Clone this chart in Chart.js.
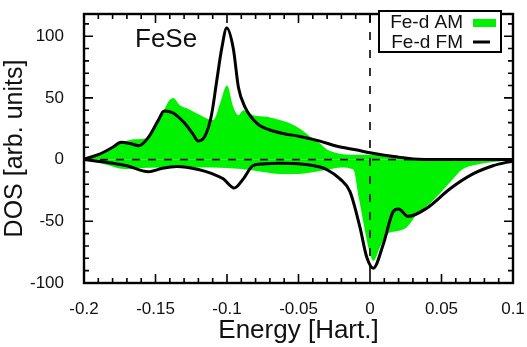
<!DOCTYPE html>
<html>
<head>
<meta charset="utf-8">
<script src="https://cdn.jsdelivr.net/npm/chart.js@4.4.0/dist/chart.umd.min.js"></script>
<style>
  html, body { margin: 0; padding: 0; background: #fff; }
  #wrap { width: 527px; height: 347px; }
</style>
</head>
<body>
<div id="wrap"><canvas id="dos"></canvas></div>
<script>
// energy in Hartree, DOS in arb. units
var amUpE   = [-0.2, -0.186, -0.175, -0.165, -0.158, -0.153, -0.149, -0.144, -0.1405, -0.1375, -0.133, -0.127, -0.121, -0.1095, -0.105, -0.1, -0.0956, -0.092, -0.0886, -0.0816, -0.072, -0.063, -0.056, -0.049, -0.042, -0.036, -0.03, -0.022, -0.01, 0, 0.015, 0.03, 0.045, 0.06, 0.1];
var amUpDos = [0, 5.5, 13, 16.5, 17, 21, 29, 40, 47.8, 50, 44, 41, 37.3, 32, 45, 60, 42.6, 36, 40, 36, 34.7, 32, 29.4, 25, 18.8, 14, 8.2, 5, 4, 4, 3, 1.5, 0.5, 0, 0];

var amDnE   = [-0.2, -0.185, -0.172, -0.155, -0.135, -0.11, -0.09, -0.075, -0.063, -0.05, -0.04, -0.03, -0.02, -0.0117, -0.0077, -0.0035, 0, 0.0023, 0.007, 0.0117, 0.0186, 0.0256, 0.0326, 0.042, 0.05, 0.056, 0.065, 0.075, 0.086, 0.1];
var amDnDos = [0, -4, -7.7, -6.5, -6.3, -6.3, -7.7, -10, -11.6, -11.6, -10.3, -8.2, -6.3, -8, -31.5, -58, -76.5, -82, -71, -60.5, -58, -55, -44.7, -35.5, -26, -18.3, -7.7, -4, -2, -0.5];

var fmUpE   = [-0.2, -0.19, -0.18, -0.174, -0.168, -0.1615, -0.155, -0.148, -0.144, -0.138, -0.13, -0.124, -0.12, -0.115, -0.1107, -0.1072, -0.1037, -0.1002, -0.0956, -0.092, -0.0874, -0.079, -0.07, -0.06, -0.049, -0.035, -0.023, -0.01, 0, 0.01, 0.02, 0.03, 0.05, 0.07, 0.1];
var fmUpDos = [0.5, 4, 10, 14, 13, 11.3, 18, 32, 39.4, 38, 30, 21, 15, 20, 37, 63.7, 90, 106.6, 90, 58.5, 42.6, 29.4, 24, 21, 18.8, 15, 10.8, 8, 5.5, 3.5, 2, 0.5, 0, 0, 0];

var fmDnE   = [-0.2, -0.18, -0.17, -0.155, -0.145, -0.135, -0.12, -0.11, -0.1026, -0.095, -0.0886, -0.082, -0.075, -0.063, -0.047, -0.035, -0.03, -0.021, -0.014, -0.007, -0.0023, 0.0023, 0.0093, 0.0163, 0.0198, 0.0268, 0.0396, 0.056, 0.072, 0.086, 0.1];
var fmDnDos = [0, -2.9, -5, -9.8, -7, -5.6, -8, -11.6, -15.6, -23, -15.6, -5, -3.5, -2.9, -3.7, -6, -8.2, -15.6, -26, -55, -79, -88, -68.5, -42, -40, -46, -39.4, -23.6, -11.6, -5, -1];

var xTicks = [-0.2, -0.15, -0.1, -0.05, 0, 0.05, 0.1];
var yTicks = [-100, -50, 0, 50, 100];
var xMinor = 0.01, yMinor = 10;

var GREEN = '#00f200';
var FONT = '"Liberation Sans", Arial, sans-serif';

function pts(e, d) {
    return e.map(function (v, i) { return { x: v, y: d[i] }; });
}

// gnuplot-like frame: inward ticks on all sides, dashed zero lines, legend, label
var framePlugin = {
    id: 'frame',
    afterDatasetsDraw: function (chart) {
        var ctx = chart.ctx;
        var a = chart.chartArea;
        var xs = chart.scales.x, ys = chart.scales.y;
        ctx.save();

        // dashed zero lines
        ctx.strokeStyle = '#000';
        ctx.lineWidth = 1.6;
        ctx.setLineDash([8, 8]);
        var y0 = ys.getPixelForValue(0);
        ctx.beginPath();
        ctx.moveTo(a.left, y0);
        ctx.lineTo(a.right, y0);
        ctx.stroke();
        var x0 = xs.getPixelForValue(0);
        ctx.setLineDash([8, 10]);
        ctx.beginPath();
        ctx.moveTo(x0, a.top);
        ctx.lineTo(x0, a.bottom);
        ctx.stroke();
        ctx.setLineDash([]);

        // ticks
        ctx.lineWidth = 1.6;
        ctx.beginPath();
        var i, v, p, len;
        for (i = 0; i <= 30; i++) {
            v = -0.2 + i * xMinor;
            p = xs.getPixelForValue(v);
            len = (i % 5 === 0) ? 9 : 5;
            ctx.moveTo(p, a.bottom); ctx.lineTo(p, a.bottom - len);
            ctx.moveTo(p, a.top); ctx.lineTo(p, a.top + len);
        }
        for (v = -100; v <= 118; v += yMinor) {
            p = ys.getPixelForValue(v);
            len = (v % 50 === 0) ? 9 : 5;
            ctx.moveTo(a.left, p); ctx.lineTo(a.left + len, p);
            ctx.moveTo(a.right, p); ctx.lineTo(a.right - len, p);
        }
        ctx.stroke();

        // border
        ctx.lineWidth = 2.4;
        ctx.strokeRect(a.left, a.top, a.right - a.left, a.bottom - a.top);

        // FeSe label
        ctx.fillStyle = '#111';
        ctx.font = '26px ' + FONT;
        ctx.textAlign = 'left';
        ctx.textBaseline = 'alphabetic';
        ctx.fillText('FeSe', 135, 47);

        // legend box
        var bx = 379, by = 11, bw = 122, bh = 41;
        ctx.fillStyle = '#fff';
        ctx.fillRect(bx, by, bw, bh);
        ctx.lineWidth = 2;
        ctx.strokeStyle = '#000';
        ctx.strokeRect(bx, by, bw, bh);
        ctx.fillStyle = '#111';
        ctx.font = '19px ' + FONT;
        ctx.textAlign = 'right';
        ctx.textBaseline = 'middle';
        ctx.fillText(chart.data.datasets[2].label, 463, 23);
        ctx.fillText(chart.data.datasets[0].label, 463, 43);
        ctx.fillStyle = GREEN;
        ctx.fillRect(473, 19, 23, 8);
        ctx.strokeStyle = '#000';
        ctx.lineWidth = 3;
        ctx.beginPath();
        ctx.moveTo(473, 42);
        ctx.lineTo(490, 42);
        ctx.stroke();

        ctx.restore();
    }
};

window.onload = function () {
    var ctx = document.getElementById('dos').getContext('2d');
    window.dosChart = new Chart(ctx, {
        type: 'line',
        data: {
            datasets: [
                {
                    label: 'Fe-d FM',
                    data: pts(fmUpE, fmUpDos),
                    borderColor: '#000',
                    borderWidth: 3,
                    pointRadius: 0,
                    fill: false,
                    cubicInterpolationMode: 'monotone'
                },
                {
                    label: 'Fe-d FM',
                    data: pts(fmDnE, fmDnDos),
                    borderColor: '#000',
                    borderWidth: 3,
                    pointRadius: 0,
                    fill: false,
                    cubicInterpolationMode: 'monotone'
                },
                {
                    label: 'Fe-d AM',
                    data: pts(amUpE, amUpDos),
                    borderWidth: 0,
                    borderColor: GREEN,
                    backgroundColor: GREEN,
                    pointRadius: 0,
                    fill: 'origin',
                    cubicInterpolationMode: 'monotone'
                },
                {
                    label: 'Fe-d AM',
                    data: pts(amDnE, amDnDos),
                    borderWidth: 0,
                    borderColor: GREEN,
                    backgroundColor: GREEN,
                    pointRadius: 0,
                    fill: 'origin',
                    cubicInterpolationMode: 'monotone'
                }
            ]
        },
        options: {
            responsive: true,
            maintainAspectRatio: false,
            animation: false,
            layout: { padding: { top: 14, right: 14, left: 0, bottom: 0 } },
            plugins: {
                legend: { display: false },
                tooltip: { enabled: false }
            },
            scales: {
                x: {
                    type: 'linear',
                    min: -0.2,
                    max: 0.1,
                    grid: { display: false },
                    border: { display: false },
                    afterBuildTicks: function (s) {
                        s.ticks = xTicks.map(function (v) { return { value: v }; });
                    },
                    afterFit: function (s) {
                        s.height = 64;
                        s.paddingLeft = 0;
                        s.paddingRight = 0;
                    },
                    ticks: {
                        color: '#111',
                        padding: 8,
                        maxRotation: 0,
                        font: { family: FONT, size: 17 },
                        callback: function (v) { return String(Math.round(v * 100) / 100); }
                    },
                    title: {
                        display: true,
                        text: 'Energy [Hart.]',
                        color: '#111',
                        font: { family: FONT, size: 26 },
                        padding: { top: 0, bottom: 1 }
                    }
                },
                y: {
                    min: -100,
                    max: 118,
                    grid: { display: false },
                    border: { display: false },
                    afterBuildTicks: function (s) {
                        s.ticks = yTicks.map(function (v) { return { value: v }; });
                    },
                    afterFit: function (s) {
                        s.width = 84;
                        s.paddingTop = 0;
                        s.paddingBottom = 0;
                    },
                    ticks: {
                        color: '#111',
                        padding: 12,
                        font: { family: FONT, size: 17 }
                    },
                    title: {
                        display: true,
                        text: 'DOS [arb. units]',
                        color: '#111',
                        font: { family: FONT, size: 25 },
                        padding: { top: 0, bottom: 7 }
                    }
                }
            }
        },
        plugins: [framePlugin]
    });
};
</script>
</body>
</html>
